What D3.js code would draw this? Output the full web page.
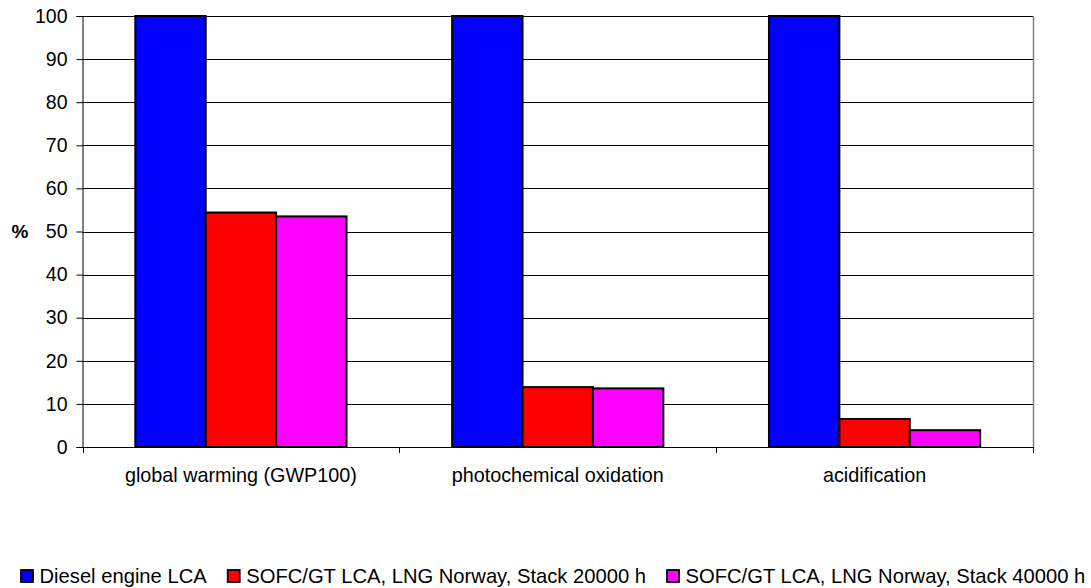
<!DOCTYPE html>
<html>
<head>
<meta charset="utf-8">
<script src="https://cdn.jsdelivr.net/npm/d3@7"></script>
<style>
  html, body { margin: 0; padding: 0; background: #fff; }
  svg { display: block; font-family: Arial, "Liberation Sans", sans-serif; }
</style>
</head>
<body>
<svg id="chart" width="1091" height="588"></svg>
<script>
// chart data
const categories = ['global warming (GWP100)', 'photochemical oxidation', 'acidification'];
const seriesNames = [
  'Diesel engine LCA',
  'SOFC/GT LCA, LNG Norway, Stack 20000 h',
  'SOFC/GT LCA, LNG Norway, Stack 40000 h'
];
const seriesColors = ['#0000ff', '#ff0000', '#ff00ff'];
const dieselValues = [100, 100, 100];
const stack20000Values = [54.4, 13.9, 6.5];
const stack40000Values = [53.5, 13.6, 3.9];
const yTicks = [0, 10, 20, 30, 40, 50, 60, 70, 80, 90, 100];

const seriesValues = [dieselValues, stack20000Values, stack40000Values];

const svg = d3.select('#chart');
const plot = { left: 82.5, right: 1033, top: 16, bottom: 447 };

const x0 = d3.scaleBand()
  .domain(categories)
  .range([plot.left, plot.right])
  .padding(0);

// Excel style gap width 150% -> outer padding 0.75 of a bar each side
const x1 = d3.scaleBand()
  .domain(seriesNames)
  .range([0, x0.bandwidth()])
  .paddingInner(0)
  .paddingOuter(0.75);

const y = d3.scaleLinear()
  .domain([0, 100])
  .range([plot.bottom, plot.top]);

// gridlines
svg.append('g')
  .selectAll('line')
  .data(yTicks.filter(d => d > 0))
  .join('line')
  .attr('x1', plot.left)
  .attr('x2', plot.right)
  .attr('y1', d => Math.round(y(d)) + 0.5)
  .attr('y2', d => Math.round(y(d)) + 0.5)
  .attr('stroke', '#000')
  .attr('stroke-width', 1);

// right border of plot area
svg.append('line')
  .attr('x1', plot.right + 0.5)
  .attr('x2', plot.right + 0.5)
  .attr('y1', plot.top)
  .attr('y2', plot.bottom)
  .attr('stroke', '#808080')
  .attr('stroke-width', 1.5);

// bars
const rows = categories.map((c, i) => ({
  category: c,
  values: seriesNames.map((s, j) => ({ series: s, value: seriesValues[j][i], color: seriesColors[j] }))
}));

svg.append('g')
  .selectAll('g')
  .data(rows)
  .join('g')
  .attr('transform', d => `translate(${x0(d.category)},0)`)
  .selectAll('rect')
  .data(d => d.values)
  .join('rect')
  .attr('x', d => x1(d.series))
  .attr('y', d => y(d.value))
  .attr('width', x1.bandwidth())
  .attr('height', d => y(0) - y(d.value))
  .attr('fill', d => d.color)
  .attr('stroke', '#000')
  .attr('stroke-width', 2);

// y axis
const yAxis = svg.append('g')
  .attr('transform', `translate(${plot.left},0)`)
  .call(d3.axisLeft(y).tickValues(yTicks).tickSize(6).tickPadding(9));
yAxis.select('.domain').attr('stroke', '#000');
yAxis.selectAll('.tick line').attr('stroke', '#000');
yAxis.selectAll('.tick text')
  .attr('fill', '#000')
  .style('font-size', '19.5px');

svg.append('text')
  .attr('x', 20)
  .attr('y', (plot.top + plot.bottom) / 2)
  .attr('dy', '0.35em')
  .attr('text-anchor', 'middle')
  .style('font-size', '19px')
  .style('font-weight', 'bold')
  .text('%');

// x axis: ticks at category boundaries, labels centred
const xAxis = svg.append('g');
xAxis.append('line')
  .attr('x1', plot.left)
  .attr('x2', plot.right)
  .attr('y1', plot.bottom + 0.5)
  .attr('y2', plot.bottom + 0.5)
  .attr('stroke', '#000');

const edges = categories.map(c => x0(c)).concat([x0.range()[1]]);
xAxis.selectAll('line.edge')
  .data(edges)
  .join('line')
  .attr('class', 'edge')
  .attr('x1', d => Math.round(d) + 0.5)
  .attr('x2', d => Math.round(d) + 0.5)
  .attr('y1', plot.bottom)
  .attr('y2', plot.bottom + 6)
  .attr('stroke', '#000');

xAxis.selectAll('text')
  .data(categories)
  .join('text')
  .attr('x', d => x0(d) + x0.bandwidth() / 2)
  .attr('y', 482)
  .attr('text-anchor', 'middle')
  .style('font-size', '19.8px')
  .text(d => d);

// legend laid out left to right
const legend = svg.append('g');
let lx = 21;
seriesNames.forEach((name, i) => {
  legend.append('rect')
    .attr('x', lx)
    .attr('y', 570)
    .attr('width', 12)
    .attr('height', 12)
    .attr('fill', seriesColors[i])
    .attr('stroke', '#000')
    .attr('stroke-width', 1.8);
  const t = legend.append('text')
    .attr('x', lx + 18.5)
    .attr('y', 583)
    .style('font-size', '20.2px')
    .text(name);
  lx += 18.5 + t.node().getComputedTextLength() + 21;
});
</script>
</body>
</html>
